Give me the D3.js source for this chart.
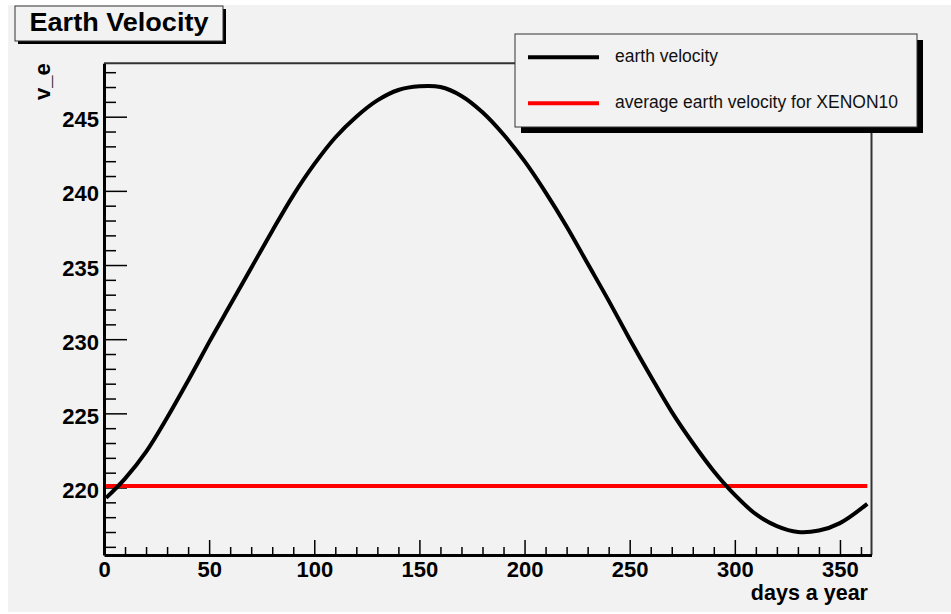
<!DOCTYPE html>
<html>
<head>
<meta charset="utf-8">
<script src="https://cdn.jsdelivr.net/npm/d3@7"></script>
<style>
  html, body { margin: 0; padding: 0; background: #ffffff; }
  svg { display: block; }
  text { font-family: "Liberation Sans", Arial, Helvetica, sans-serif; }
</style>
</head>
<body>
<svg id="chart" width="951" height="614"></svg>
<script>
// Earth velocity over the year (days) and the XENON10 average
const days = [1, 10, 20, 30, 40, 50, 60, 70, 80, 90, 100, 110, 120, 130, 140, 150,
  160, 170, 180, 190, 200, 210, 220, 230, 240, 250, 260, 270, 280, 290, 300,
  310, 320, 330, 340, 350, 363];
const velocity = [219.3, 220.6, 222.4, 224.7, 227.2, 229.8, 232.3, 234.8, 237.3, 239.7,
  241.8, 243.6, 245.0, 246.1, 246.8, 247.05, 247.0, 246.4, 245.3, 243.8, 242.0,
  239.9, 237.6, 235.1, 232.6, 230.0, 227.5, 225.1, 223.0, 221.1, 219.5,
  218.2, 217.4, 217.0, 217.1, 217.6, 218.9];
const averageDays = [1, 363];
const averageVelocity = 220.1;

const xMajorTicks = [0, 50, 100, 150, 200, 250, 300, 350];
const yMajorTicks = [220, 225, 230, 235, 240, 245];

const titleText = "Earth Velocity";
const xTitle = "days a year";
const yTitle = "v_e";
const legendLabels = ["earth velocity", "average earth velocity for XENON10"];
const legendColors = ["#000000", "#ff0000"];

const svg = d3.select("#chart");
const bg = "#f2f2f2";

// canvas background
svg.append("rect").attr("x", 8).attr("y", 5).attr("width", 943).attr("height", 607).attr("fill", bg);

const frame = { left: 104, right: 871.5, top: 63.3, bottom: 555 };
const x = d3.scaleLinear().domain([0, 365]).range([frame.left, frame.right]);
const y = d3.scaleLinear().domain([215.45, 248.6]).range([frame.bottom, frame.top]);

// top and right frame lines
svg.append("path")
  .attr("d", `M${frame.left},${frame.top}H${frame.right}V${frame.bottom}`)
  .attr("fill", "none").attr("stroke", "#333").attr("stroke-width", 2);

// minor ticks
const yMinor = d3.range(216, 249, 1).filter(v => !yMajorTicks.includes(v));
const xMinor = d3.range(0, 365, 10).filter(v => !xMajorTicks.includes(v));

svg.append("g").attr("transform", `translate(${frame.left},0)`)
  .call(d3.axisLeft(y).tickValues(yMinor).tickSizeInner(-12).tickSizeOuter(0).tickFormat(""))
  .call(g => g.select(".domain").remove())
  .call(g => g.selectAll("line").attr("stroke", "#000").attr("stroke-width", 1.5));

svg.append("g").attr("transform", `translate(0,${frame.bottom})`)
  .call(d3.axisBottom(x).tickValues(xMinor).tickSizeInner(-8).tickSizeOuter(0).tickFormat(""))
  .call(g => g.select(".domain").remove())
  .call(g => g.selectAll("line").attr("stroke", "#000").attr("stroke-width", 1.5));

// major ticks with labels
const yAxis = svg.append("g").attr("transform", `translate(${frame.left},0)`)
  .call(d3.axisLeft(y).tickValues(yMajorTicks).tickSizeInner(-23).tickSizeOuter(0).tickPadding(5).tickFormat(d3.format("d")));
yAxis.select(".domain").attr("stroke", "#000").attr("stroke-width", 3);
yAxis.selectAll("line").attr("stroke", "#000").attr("stroke-width", 1.5);
yAxis.selectAll("text").attr("fill", "#000").attr("font-size", 22).attr("font-weight", "bold")
  .attr("dy", "0.46em").attr("font-family", "Liberation Sans, Arial, sans-serif");

const xAxis = svg.append("g").attr("transform", `translate(0,${frame.bottom})`)
  .call(d3.axisBottom(x).tickValues(xMajorTicks).tickSizeInner(-15).tickSizeOuter(0).tickPadding(6).tickFormat(d3.format("d")));
xAxis.select(".domain").attr("stroke", "#000").attr("stroke-width", 3);
xAxis.selectAll("line").attr("stroke", "#000").attr("stroke-width", 1.5);
xAxis.selectAll("text").attr("fill", "#000").attr("font-size", 22).attr("font-weight", "bold")
  .attr("font-family", "Liberation Sans, Arial, sans-serif");

// axis titles
svg.append("text").attr("x", 868).attr("y", 600).attr("text-anchor", "end")
  .attr("font-size", 21.5).attr("font-weight", "bold").attr("fill", "#000").text(xTitle);
svg.append("text").attr("transform", `translate(50,${frame.top}) rotate(-90)`)
  .attr("text-anchor", "end").attr("font-size", 22).attr("font-weight", "bold")
  .attr("fill", "#000").text(yTitle);

// average line
svg.append("path")
  .datum(averageDays)
  .attr("d", d3.line().x(d => x(d)).y(() => y(averageVelocity)))
  .attr("stroke", legendColors[1]).attr("stroke-width", 4).attr("fill", "none");

// velocity curve
const series = days.map((d, i) => [d, velocity[i]]);
svg.append("path")
  .datum(series)
  .attr("d", d3.line().x(d => x(d[0])).y(d => y(d[1])).curve(d3.curveCatmullRom))
  .attr("stroke", legendColors[0]).attr("stroke-width", 4).attr("fill", "none")
  .attr("stroke-linejoin", "round");

// legend box with shadow
const legend = { x: 515, y: 34, w: 402, h: 93 };
svg.append("rect").attr("x", legend.x + 6).attr("y", legend.y + 6)
  .attr("width", legend.w).attr("height", legend.h).attr("fill", "#000");
svg.append("rect").attr("x", legend.x).attr("y", legend.y)
  .attr("width", legend.w).attr("height", legend.h)
  .attr("fill", bg).attr("stroke", "#333").attr("stroke-width", 1);

legendLabels.forEach((label, i) => {
  const cy = legend.y + 23.3 + i * 46;
  svg.append("line").attr("x1", 528).attr("x2", 599).attr("y1", cy).attr("y2", cy)
    .attr("stroke", legendColors[i]).attr("stroke-width", 4);
  svg.append("text").attr("x", 615).attr("y", cy + 5).attr("font-size", 17.5)
    .attr("fill", "#111").text(label);
});

// title box with shadow
const tb = { x: 15, y: 6, w: 208, h: 35 };
svg.append("rect").attr("x", tb.x + 3).attr("y", tb.y + 3)
  .attr("width", tb.w).attr("height", tb.h).attr("fill", "#000");
svg.append("rect").attr("x", tb.x).attr("y", tb.y)
  .attr("width", tb.w).attr("height", tb.h)
  .attr("fill", bg).attr("stroke", "#333").attr("stroke-width", 1);
svg.append("text").attr("x", tb.x + tb.w / 2).attr("y", 30.7).attr("text-anchor", "middle")
  .attr("font-size", 25).attr("font-weight", "bold").attr("fill", "#000")
  .attr("textLength", 179).attr("lengthAdjust", "spacingAndGlyphs").text(titleText);
</script>
</body>
</html>
